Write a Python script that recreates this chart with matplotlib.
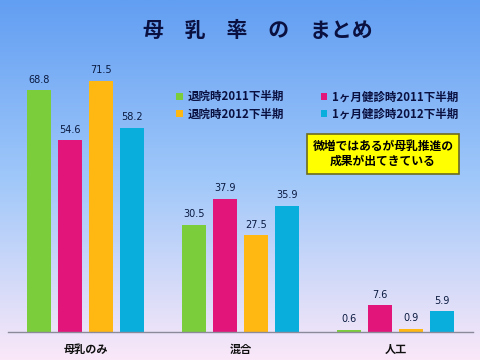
import matplotlib
matplotlib.use("Agg")
import matplotlib.pyplot as plt
import numpy as np

plt.rcParams['font.family'] = ['Noto Sans CJK JP', 'DejaVu Sans']

categories = ['母乳のみ', '混合', '人工']
series_names = ['退院時2011下半期', '1ヶ月健診時2011下半期', '退院時2012下半期', '1ヶ月健診時2012下半期']
values_2011_discharge = [68.8, 30.5, 0.6]
values_2011_month = [54.6, 37.9, 7.6]
values_2012_discharge = [71.5, 27.5, 0.9]
values_2012_month = [58.2, 35.9, 5.9]
colors = ['#7ccd3c', '#e2167a', '#ffb812', '#0aaedc']
title = '母　乳　率　の　まとめ'
note = '微増ではあるが母乳推進の\n成果が出てきている'

series = [values_2011_discharge, values_2011_month, values_2012_discharge, values_2012_month]

fig = plt.figure(figsize=(4.8, 3.6), dpi=100)

# background gradient
bg = fig.add_axes([0, 0, 1, 1])
bg.set_axis_off()
t = np.linspace(0, 1, 256)[:, None]
top = np.array([98, 158, 242]) / 255
mid = np.array([160, 200, 250]) / 255
bot = np.array([250, 232, 248]) / 255
grad = np.where(t < 0.5, top + (mid - top) * (t / 0.5), mid + (bot - mid) * ((t - 0.5) / 0.5))
img = grad.reshape(256, 1, 3)
bg.imshow(np.repeat(img, 2, axis=1), aspect='auto', extent=[0, 1, 0, 1], origin='upper')
bg.set_xlim(0, 1); bg.set_ylim(0, 1)

ax = fig.add_axes([8/480, 28/360, 465/480, 281/360])
ax.patch.set_alpha(0)
x = np.arange(len(categories))
w = 0.16
gap = 0.2
for i, (vals, c) in enumerate(zip(series, colors)):
    pos = x + (i - 1.5) * gap
    ax.bar(pos, vals, width=w, color=c, label=series_names[i], zorder=2)
    for p, v in zip(pos, vals):
        ax.text(p, v + 1.6, f'{v}', ha='center', va='bottom', fontsize=7,
                color='#0a1a40', family=['DejaVu Sans'])
ax.set_xlim(-0.5, 2.5)
ax.set_ylim(0, 80)
for s in ['top', 'right', 'left']:
    ax.spines[s].set_visible(False)
ax.spines['bottom'].set_color('#8a8a9a')
ax.spines['bottom'].set_linewidth(1.0)
ax.set_yticks([])
ax.set_xticks(x)
ax.set_xticklabels(categories, fontsize=8, fontweight='bold', color='#101010')
ax.tick_params(axis='x', length=0, pad=8)

# title
fig.text(258/480, 1 - 30/360, title, ha='center', va='center', fontsize=15,
         fontweight='bold', color='#0a1040')

handles, labels = ax.get_legend_handles_labels()
order = [0, 2, 1, 3]
leg = ax.legend([handles[i] for i in order], [labels[i] for i in order],
                loc='upper left', bbox_to_anchor=(158/465, 1 - (80 - 51)/281),
                ncol=2, frameon=False, handlelength=0.55, handleheight=0.55,
                handletextpad=0.4, columnspacing=3.2, labelspacing=0.35,
                prop={'weight': 'bold', 'size': 8.3, 'family': ['Noto Sans CJK JP']})
for txt in leg.get_texts():
    txt.set_color('#0a1040')

# note box
fig.text(383/480, 1 - 154/360, note, ha='center', va='center', fontsize=8.5,
         fontweight='bold', color='#000000', linespacing=1.15,
         bbox=dict(boxstyle='square,pad=0.5', facecolor='#ffff00', edgecolor='#6b6b20', linewidth=1.2))

fig.savefig('out.png', dpi=100)
